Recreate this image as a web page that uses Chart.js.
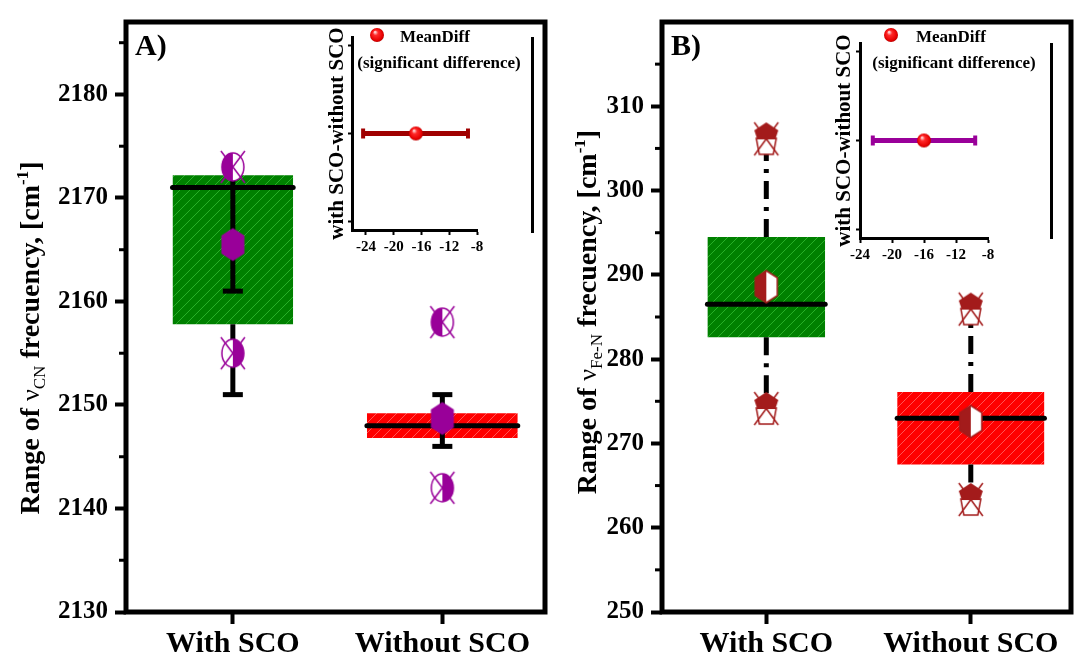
<!DOCTYPE html>
<html>
<head>
<meta charset="utf-8">
<title>Range of vibrational frequencies with and without SCO</title>
<script src="https://cdn.jsdelivr.net/npm/chart.js@4.4.1/dist/chart.umd.min.js"></script>
<style>
  html, body { margin: 0; padding: 0; background: #fff; }
  #stage { position: relative; width: 1084px; height: 664px; overflow: hidden; background: #fff; }
  #stage canvas { position: absolute; top: 0; }
  .edge { position: absolute; background: #000; width: 3px; }
</style>
</head>
<body>
<div id="stage">
  <canvas id="mainCN" width="575" height="664" style="left:0"></canvas>
  <canvas id="mainFe" width="509" height="664" style="left:575px"></canvas>
  <canvas id="insetCN" width="215" height="262" style="left:325px"></canvas>
  <canvas id="insetFe" width="228" height="268" style="left:832px"></canvas>
  <div class="edge" style="left:531px;top:37px;height:196px"></div>
  <div class="edge" style="left:1050px;top:43px;height:196px"></div>
</div>
<script>
// ---------------- data ----------------
const categories = ['With SCO', 'Without SCO'];
const categoryPos = [1, 2];

// ν(CN) band, cm-1
const cnQ1 = [2157.8, 2146.8];
const cnQ3 = [2172.2, 2149.2];
const cnMedian = [2171.0, 2148.0];
const cnMean = [2165.5, 2148.7];
const cnMax = [2173.0, 2158.0];
const cnMin = [2155.0, 2142.0];
const cnWhiskers = [[[2173.0, 2161.0], [2157.8, 2151.0]], [[2151.0, 2146.0]]];
const cnCaps = [[2161.0, 2151.0], [2151.0, 2146.0]];
const cnTicks = [2130, 2140, 2150, 2160, 2170, 2180];

// ν(Fe-N) band, cm-1
const feQ1 = [282.6, 267.5];
const feQ3 = [294.5, 276.1];
const feMedian = [286.5, 273.0];
const feMean = [288.6, 272.6];
const feMax = [306.2, 286.0];
const feMin = [274.2, 263.4];
const feTicks = [250, 260, 270, 280, 290, 300, 310];

// mean difference (with SCO - without SCO) with its interval
const diffLabel = 'with SCO-without SCO';
const cnDiffMean = [-16.8];
const cnDiffCI = [[-24.4, -9.3]];
const feDiffMean = [-16.0];
const feDiffCI = [[-22.4, -9.6]];
const diffTicks = [-24, -20, -16, -12, -8];

// ---------------- styling helpers ----------------
const FONT = "'Liberation Serif', 'Times New Roman', serif";
const PURPLE = '#990099';
const BROWN = '#a31b1b';
const BOX_HALF = [0.288, 0.36];

function glyph(w, h, draw) {
  const c = document.createElement('canvas');
  c.width = w; c.height = h;
  draw(c.getContext('2d'), w, h);
  return c;
}
function hexPath(g, cx, cy, rx, ry) {
  g.beginPath();
  g.moveTo(cx, cy - ry);
  g.lineTo(cx + rx, cy - ry * 0.55);
  g.lineTo(cx + rx, cy + ry * 0.55);
  g.lineTo(cx, cy + ry);
  g.lineTo(cx - rx, cy + ry * 0.55);
  g.lineTo(cx - rx, cy - ry * 0.55);
  g.closePath();
}
const hexFull = glyph(26, 36, g => { hexPath(g, 13, 18, 11.5, 16.5); g.fillStyle = PURPLE; g.fill(); });
const hexHalf = glyph(26, 36, g => {
  hexPath(g, 13, 18, 11, 16); g.fillStyle = '#fff'; g.fill();
  g.save(); g.beginPath(); g.rect(0, 0, 13, 36); g.clip();
  hexPath(g, 13, 18, 11, 16); g.fillStyle = BROWN; g.fill(); g.restore();
  hexPath(g, 13, 18, 11, 16); g.strokeStyle = BROWN; g.lineWidth = 1.5; g.stroke();
});
function ellipseGlyph(side) {
  return glyph(28, 36, g => {
    const cx = 14, cy = 18, rx = 11, ry = 14;
    const path = () => { g.beginPath(); g.ellipse(cx, cy, rx, ry, 0, 0, Math.PI * 2); };
    path(); g.fillStyle = '#fff'; g.fill();
    g.save(); g.beginPath();
    if (side === 'left') g.rect(0, 0, cx, 36); else g.rect(cx, 0, 14, 36);
    g.clip(); path(); g.fillStyle = PURPLE; g.fill(); g.restore();
    g.strokeStyle = PURPLE; g.lineWidth = 1.5; path(); g.stroke();
    g.beginPath(); g.moveTo(2, 2); g.lineTo(26, 34); g.moveTo(26, 2); g.lineTo(2, 34); g.stroke();
  });
}
const houseGlyph = glyph(30, 38, g => {
  g.strokeStyle = BROWN; g.lineWidth = 1.5;
  g.beginPath(); g.moveTo(5, 19); g.lineTo(25, 19); g.lineTo(22, 35); g.lineTo(8, 35); g.closePath();
  g.fillStyle = '#fff'; g.fill(); g.stroke();
  g.beginPath(); g.moveTo(3, 3); g.lineTo(27, 36); g.moveTo(27, 3); g.lineTo(3, 36); g.stroke();
  g.beginPath(); g.moveTo(15, 3); g.lineTo(27, 11); g.lineTo(24, 20); g.lineTo(6, 20); g.lineTo(3, 11); g.closePath();
  g.fillStyle = BROWN; g.fill();
});
const sphere = glyph(16, 16, g => {
  const gr = g.createRadialGradient(6, 5, 0.5, 8, 8, 7.5);
  gr.addColorStop(0, '#ffd6d6'); gr.addColorStop(0.3, '#ff2a2a');
  gr.addColorStop(0.8, '#e60000'); gr.addColorStop(1, '#a80000');
  g.beginPath(); g.arc(8, 8, 7, 0, Math.PI * 2); g.fillStyle = gr; g.fill();
});

function hatch(ctx, bg, line) {
  const n = 10;
  const c = document.createElement('canvas');
  c.width = c.height = n;
  const g = c.getContext('2d');
  g.fillStyle = bg; g.fillRect(0, 0, n, n);
  g.strokeStyle = line; g.lineWidth = 0.9;
  g.beginPath();
  g.moveTo(0, n); g.lineTo(n, 0);
  g.moveTo(-n / 2, n / 2); g.lineTo(n / 2, -n / 2);
  g.moveTo(n / 2, 1.5 * n); g.lineTo(1.5 * n, n / 2);
  g.stroke();
  return ctx.createPattern(c, 'repeat');
}

function drawRich(ctx, parts, cx, cy) {
  ctx.save();
  ctx.translate(cx, cy);
  ctx.rotate(-Math.PI / 2);
  ctx.fillStyle = '#000';
  ctx.textBaseline = 'alphabetic';
  let total = 0;
  parts.forEach(p => { ctx.font = p.font; p.w = ctx.measureText(p.text).width; total += p.w; });
  let x = -total / 2;
  parts.forEach(p => { ctx.font = p.font; ctx.fillText(p.text, x, 10 + (p.dy || 0)); x += p.w; });
  ctx.restore();
}

// frame, minor ticks, panel tag and axis title of a main panel
const panelDecor = {
  id: 'panelDecor',
  afterDraw(chart, args, o) {
    const { ctx, chartArea: a } = chart;
    const y = chart.scales.y;
    ctx.save();
    ctx.strokeStyle = '#000';
    ctx.lineWidth = 3;
    o.minor.forEach(v => {
      const py = y.getPixelForValue(v);
      ctx.beginPath(); ctx.moveTo(a.left - 7, py); ctx.lineTo(a.left, py); ctx.stroke();
    });
    ctx.lineWidth = 5;
    ctx.strokeRect(a.left, a.top, a.right - a.left, a.bottom - a.top);
    ctx.fillStyle = '#000';
    ctx.font = `bold 30px ${FONT}`;
    ctx.textBaseline = 'alphabetic';
    ctx.fillText(o.tag, a.left + 9, a.top + 33);
    drawRich(ctx, o.title, o.titleX, o.titleY);
    ctx.restore();
  }
};

// legend block of an inset
const insetLegend = {
  id: 'insetLegend',
  afterDraw(chart, args, o) {
    const ctx = chart.ctx;
    ctx.save();
    ctx.drawImage(sphere, o.sx - 8, o.sy - 8);
    ctx.fillStyle = '#000';
    ctx.font = `bold 17px ${FONT}`;
    ctx.textBaseline = 'alphabetic';
    ctx.textAlign = 'left';
    ctx.fillText('MeanDiff', o.tx, o.ty);
    ctx.textAlign = 'center';
    ctx.fillText('(significant difference)', o.lx, o.ly);
    ctx.restore();
  }
};

function mainChart(id, s) {
  const ctx = document.getElementById(id).getContext('2d');
  const patterns = [hatch(ctx, '#008000', '#2cb52c'), hatch(ctx, '#ff0000', '#ff5c5c')];
  const ds = [];
  categoryPos.forEach((c, i) => {
    const hw = BOX_HALF[i];
    ds.push({ data: [{ x: c - hw, y: s.q3[i] }, { x: c + hw, y: s.q3[i] }],
      fill: { target: { value: s.q1[i] } }, backgroundColor: patterns[i],
      borderColor: 'rgba(0,0,0,0)', borderWidth: 0, pointRadius: 0, order: 10 });
    s.whiskers[i].forEach(([a, b]) => ds.push({
      data: [{ x: c, y: a }, { x: c, y: b }], borderColor: '#000', borderWidth: 5,
      borderDash: s.dash, pointRadius: 0, order: 6 }));
    ds.push({ data: [{ x: c - hw, y: s.median[i] }, { x: c + hw, y: s.median[i] }],
      borderColor: '#000', borderWidth: 5, borderCapStyle: 'round', pointRadius: 0, order: 5 });
  });
  if (s.caps) {
    ds.push({ showLine: false, order: 4,
      data: s.caps.flatMap((pair, i) => pair.map(v => ({ x: categoryPos[i], y: v }))),
      pointStyle: 'line', pointRadius: 10, pointBorderWidth: 5, pointBorderColor: '#000' });
  }
  const marks = (vals, style) => ({ showLine: false, order: 1, pointStyle: style, pointRadius: 12,
    data: vals.map((v, i) => ({ x: categoryPos[i], y: v })) });
  ds.push(marks(s.max, s.maxGlyph), marks(s.min, s.minGlyph), marks(s.mean, s.meanGlyph));

  return new Chart(ctx, {
    type: 'line',
    data: { datasets: ds },
    plugins: [panelDecor],
    options: {
      responsive: false, animation: false, events: [],
      layout: { padding: { left: 0, top: s.top, right: s.right, bottom: 0 } },
      plugins: { legend: { display: false }, tooltip: { enabled: false },
        panelDecor: { tag: s.tag, title: s.title, titleX: s.titleX, titleY: s.titleY,
          minor: s.ticks.map(v => v + 5).filter(v => v < s.yMax) } },
      scales: {
        x: { type: 'linear', min: 0.49, max: 2.49,
          afterBuildTicks: sc => { sc.ticks = categoryPos.map(v => ({ value: v })); },
          afterFit: sc => { sc.height = 52; },
          ticks: { callback: (v, i) => categories[i], color: '#000', padding: 2, autoSkip: false, maxRotation: 0,
            font: { family: FONT, size: 30, weight: 'bold' } },
          grid: { drawOnChartArea: false, tickLength: 12, tickWidth: 4, tickColor: '#000' },
          border: { display: false } },
        y: { type: 'linear', min: s.yMin, max: s.yMax,
          afterBuildTicks: sc => { sc.ticks = s.ticks.map(v => ({ value: v })); },
          afterFit: sc => { sc.width = s.axisWidth; },
          ticks: { callback: v => String(v), color: '#000', padding: 7,
            font: { family: FONT, size: 25, weight: 'bold' } },
          grid: { drawOnChartArea: false, tickLength: 11, tickWidth: 4, tickColor: '#000' },
          border: { display: false } }
      }
    }
  });
}

function insetChart(id, s) {
  const ctx = document.getElementById(id).getContext('2d');
  const ds = [];
  s.ci.forEach(([lo, hi], i) => ds.push({ data: [{ x: lo, y: i }, { x: hi, y: i }], order: 2,
    borderColor: s.color, borderWidth: 5, pointStyle: 'line', pointRotation: 90,
    pointRadius: 5, pointBorderWidth: 4, pointBorderColor: s.color }));
  ds.push({ showLine: false, order: 1, pointStyle: sphere, pointRadius: 8,
    data: s.mean.map((m, i) => ({ x: m, y: i })) });
  return new Chart(ctx, {
    type: 'line',
    data: { datasets: ds },
    plugins: [insetLegend],
    options: {
      responsive: false, animation: false, events: [],
      layout: { padding: { left: 0, top: s.top, right: s.right, bottom: 0 } },
      plugins: { legend: { display: false }, tooltip: { enabled: false }, insetLegend: s.legend },
      scales: {
        x: { type: 'linear', min: s.xMin, max: s.xMax,
          afterBuildTicks: sc => { sc.ticks = diffTicks.map(v => ({ value: v })); },
          afterFit: sc => { sc.height = s.xHeight; },
          ticks: { callback: v => String(v), color: '#000', padding: 3, autoSkip: false, maxRotation: 0,
            font: { family: FONT, size: 15, weight: 'bold' } },
          grid: { drawOnChartArea: false, tickLength: 5, tickWidth: 2, tickColor: '#000' },
          border: { display: true, width: 3, color: '#000' } },
        y: { type: 'linear', min: -1.1, max: 1.1,
          afterBuildTicks: sc => { sc.ticks = [-1, 0, 1].map(v => ({ value: v })); },
          afterFit: sc => { sc.width = s.yWidth; },
          ticks: { display: false },
          title: { display: true, text: diffLabel, color: '#000', padding: 0,
            font: { family: FONT, size: 21, weight: 'bold' } },
          grid: { drawOnChartArea: false, tickLength: 4, tickWidth: 2, tickColor: '#000' },
          border: { display: true, width: 3, color: '#000' } }
      }
    }
  });
}

const B28 = `bold 28px ${FONT}`;
mainChart('mainCN', {
  q1: cnQ1, q3: cnQ3, median: cnMedian, mean: cnMean, max: cnMax, min: cnMin,
  whiskers: cnWhiskers, caps: cnCaps, dash: [],
  maxGlyph: ellipseGlyph('left'), minGlyph: ellipseGlyph('right'), meanGlyph: hexFull,
  ticks: cnTicks, yMin: 2130, yMax: 2187, top: 14, right: 30, axisWidth: 126,
  tag: 'A)', titleX: 29, titleY: 338,
  title: [
    { text: 'Range of ', font: B28 },
    { text: 'ν', font: `26px ${FONT}` },
    { text: 'CN', font: `17px ${FONT}`, dy: 6 },
    { text: ' frecuency, [cm', font: B28 },
    { text: '-1', font: `bold 17px ${FONT}`, dy: -11 },
    { text: ']', font: B28 }
  ]
});
mainChart('mainFe', {
  q1: feQ1, q3: feQ3, median: feMedian, mean: feMean, max: feMax, min: feMin,
  whiskers: categoryPos.map((_, i) => [[feQ3[i], feMax[i]], [feQ1[i], feMin[i]]]),
  caps: null, dash: [18, 8, 4, 8],
  maxGlyph: houseGlyph, minGlyph: houseGlyph, meanGlyph: hexHalf,
  ticks: feTicks, yMin: 250, yMax: 320, top: 13, right: 6, axisWidth: 87,
  tag: 'B)', titleX: 11, titleY: 312,
  title: [
    { text: 'Range of ', font: B28 },
    { text: 'ν', font: `26px ${FONT}` },
    { text: 'Fe-N', font: `17px ${FONT}`, dy: 6 },
    { text: ' frecuency, [cm', font: B28 },
    { text: '-1', font: `bold 17px ${FONT}`, dy: -11 },
    { text: ']', font: B28 }
  ]
});
insetChart('insetCN', {
  mean: cnDiffMean, ci: cnDiffCI, color: '#a00000',
  xMin: -26, xMax: -8, top: 37, right: 63, xHeight: 32, yWidth: 27,
  legend: { sx: 52, sy: 35, tx: 75, ty: 42, lx: 114, ly: 68 }
});
insetChart('insetFe', {
  mean: feDiffMean, ci: feDiffCI, color: PURPLE,
  xMin: -24, xMax: -8, top: 43, right: 72, xHeight: 30, yWidth: 28,
  legend: { sx: 59, sy: 35, tx: 84, ty: 42, lx: 122, ly: 68 }
});
</script>
</body>
</html>
